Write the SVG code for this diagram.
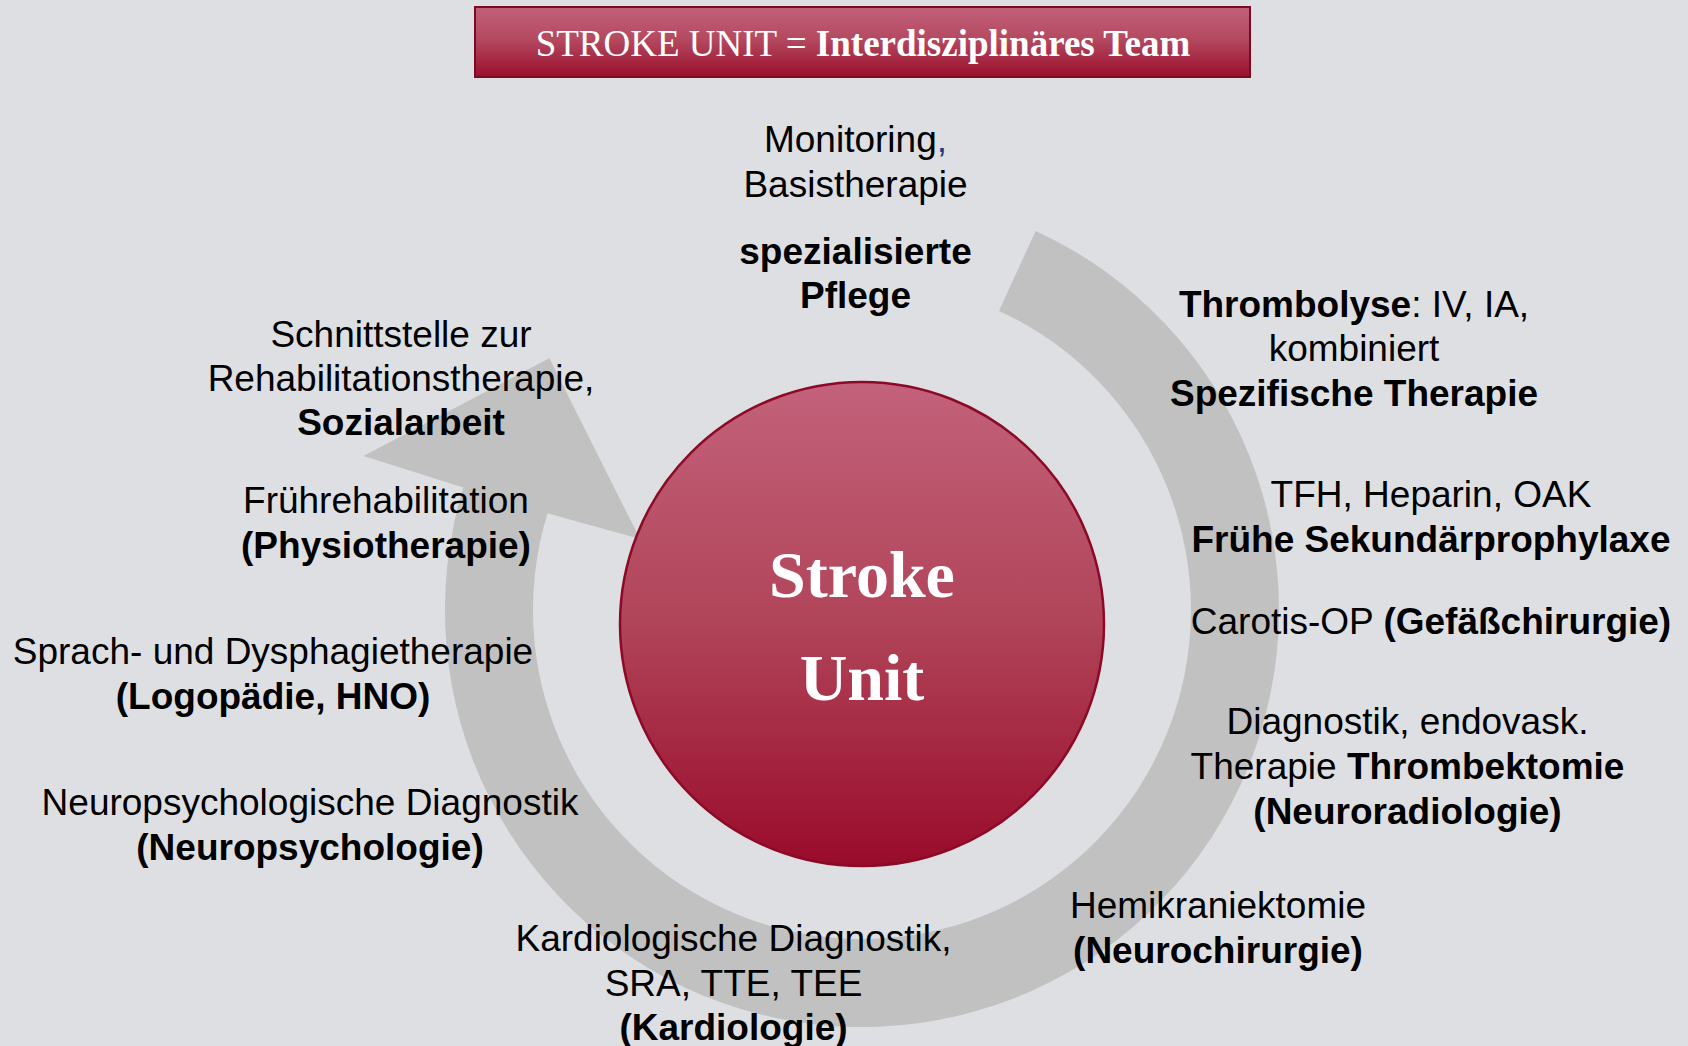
<svg xmlns="http://www.w3.org/2000/svg" width="1688" height="1046" viewBox="0 0 1688 1046">
  <defs>
    <linearGradient id="redFill" x1="0" y1="0" x2="0" y2="1">
      <stop offset="0" stop-color="#c3627b"/>
      <stop offset="0.5" stop-color="#b04459"/>
      <stop offset="1" stop-color="#9a0b2b"/>
    </linearGradient>
    <linearGradient id="titleFill" x1="0" y1="0" x2="0" y2="1">
      <stop offset="0" stop-color="#c2607a"/>
      <stop offset="0.45" stop-color="#b44a60"/>
      <stop offset="1" stop-color="#9b0e2d"/>
    </linearGradient>
    <style>
      .lbl { font-family: "Liberation Sans", Arial, sans-serif; font-size: 37px; fill: #000; text-anchor: middle; }
      .b { font-weight: bold; }
      .serif { font-family: "Liberation Serif", "Times New Roman", serif; fill: #fff; text-anchor: middle; }
    </style>
  </defs>

  <!-- page background -->
  <rect x="0" y="0" width="1688" height="1046" fill="#dedfe3"/>

  <!-- circular arrow running clockwise around the centre -->
  <g id="connectors">
    <path d="M1035.6,230.9 A417,417 0 1,1 463.4,487.4 L363.5,456 L549.3,358.3 L640,539 L547.5,513.3 A329,329 0 1,0 999,310.9 Z" fill="#c1c1c1"/>
  </g>

  <!-- heading bar -->
  <g id="title">
    <rect x="475" y="7" width="775" height="70" fill="url(#titleFill)" stroke="#7e0a22" stroke-width="2"/>
    <text class="serif" x="863" y="56" font-size="37">STROKE UNIT = <tspan font-weight="bold">Interdisziplinäres Team</tspan></text>
  </g>

  <!-- central disc -->
  <g id="stroke-unit">
    <circle cx="862" cy="624" r="242" fill="url(#redFill)" stroke="#8c0a26" stroke-width="2.5"/>
    <text class="serif" x="862" y="597" font-size="66" font-weight="bold">Stroke</text>
    <text class="serif" x="862" y="700" font-size="66" font-weight="bold">Unit</text>
  </g>

  <g id="pflege">
    <text class="lbl" x="855.5" y="152">Monitoring<tspan fill="#1f3a80">,</tspan></text>
    <text class="lbl" x="855.5" y="197">Basistherapie</text>
    <text class="lbl b" x="855.5" y="264">spezialisierte</text>
    <text class="lbl b" x="855.5" y="308">Pflege</text>
  </g>

  <g id="spezifische-therapie">
    <text class="lbl" x="1354" y="317"><tspan class="b">Thrombolyse</tspan>: IV, IA,</text>
    <text class="lbl" x="1354" y="361">kombiniert</text>
    <text class="lbl b" x="1354" y="406">Spezifische Therapie</text>
  </g>

  <g id="sekundaerprophylaxe">
    <text class="lbl" x="1431" y="507">TFH, Heparin, OAK</text>
    <text class="lbl b" x="1431" y="552">Frühe Sekundärprophylaxe</text>
  </g>

  <g id="gefaesschirurgie">
    <text class="lbl" x="1431" y="634">Carotis-OP <tspan class="b">(Gefäßchirurgie)</tspan></text>
  </g>

  <g id="neuroradiologie">
    <text class="lbl" x="1407.5" y="734">Diagnostik, endovask.</text>
    <text class="lbl" x="1407.5" y="779">Therapie <tspan class="b">Thrombektomie</tspan></text>
    <text class="lbl b" x="1407.5" y="824">(Neuroradiologie)</text>
  </g>

  <g id="neurochirurgie">
    <text class="lbl" x="1218" y="918">Hemikraniektomie</text>
    <text class="lbl b" x="1218" y="963">(Neurochirurgie)</text>
  </g>

  <g id="kardiologie">
    <text class="lbl" x="733.5" y="951">Kardiologische Diagnostik,</text>
    <text class="lbl" x="733.5" y="996">SRA, TTE, TEE</text>
    <text class="lbl b" x="733.5" y="1040">(Kardiologie)</text>
  </g>

  <g id="neuropsychologie">
    <text class="lbl" x="310" y="815">Neuropsychologische Diagnostik</text>
    <text class="lbl b" x="310" y="860">(Neuropsychologie)</text>
  </g>

  <g id="logopaedie">
    <text class="lbl" x="273" y="664">Sprach- und Dysphagietherapie</text>
    <text class="lbl b" x="273" y="709">(Logopädie, HNO)</text>
  </g>

  <g id="physiotherapie">
    <text class="lbl" x="386" y="513">Frührehabilitation</text>
    <text class="lbl b" x="386" y="558">(Physiotherapie)</text>
  </g>

  <g id="sozialarbeit">
    <text class="lbl" x="401" y="347">Schnittstelle zur</text>
    <text class="lbl" x="401" y="391">Rehabilitationstherapie,</text>
    <text class="lbl b" x="401" y="435">Sozialarbeit</text>
  </g>
</svg>
